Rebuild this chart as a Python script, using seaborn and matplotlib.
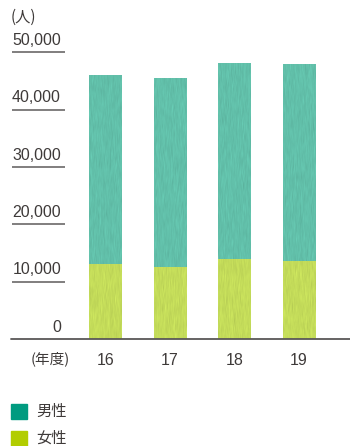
import matplotlib
matplotlib.use("Agg")
import matplotlib.pyplot as plt
import matplotlib.transforms as mtransforms
from matplotlib.colors import to_rgb
from matplotlib.patches import Rectangle
import numpy as np
import seaborn as sns
import pandas as pd

# Employees by fiscal year (persons)
years = ["16", "17", "18", "19"]
male = [33100, 33100, 34200, 34300]
female = [13000, 12500, 14000, 13600]
yticks = [0, 10000, 20000, 30000, 40000, 50000]
ytick_labels = ["0", "10,000", "20,000", "30,000", "40,000", "50,000"]
series_names = ["男性", "女性"]

male_bar = "#62c0aa"
female_bar = "#c4dc5a"
male_key = "#009b80"
female_key = "#b2cd00"
text_color = "#3e3a39"
rule_color = "#6b6868"

sns.set_theme(style="white")
plt.rcParams["font.family"] = ["Liberation Sans", "Noto Sans CJK JP", "DejaVu Sans"]
cjk = ["Noto Sans CJK JP", "DejaVu Sans"]

df = pd.DataFrame({"year": years, "male": male, "female": female})
df["total"] = df["male"] + df["female"]

W, H = 350, 446
fig = plt.figure(figsize=(W / 100, H / 100), dpi=100)
ax = fig.add_axes([11 / W, (H - 339) / H, (W - 11) / W, (339 - 52.3) / H])

sns.barplot(data=df, x="year", y="total", color=male_bar, width=0.51,
            saturation=1, ax=ax, edgecolor="none")
sns.barplot(data=df, x="year", y="female", color=female_bar, width=0.51,
            saturation=1, ax=ax, edgecolor="none")

# faint paint-like mottling inside each bar
rng = np.random.default_rng(7)
def mottle(base, shape):
    n = rng.normal(size=shape)
    k = np.ones(3) / 3
    n = np.apply_along_axis(lambda r: np.convolve(r, k, mode="same"), 0, n)
    n = np.apply_along_axis(lambda r: np.convolve(r, np.ones(7) / 7, mode="same"), 0, n)
    n = n / (n.std() + 1e-9)
    rgb = np.array(to_rgb(base))
    img = rgb[None, None, :] * (1 + 0.018 * n[..., None])
    return np.clip(img, 0, 1)

for p in list(ax.patches):
    x, y = p.get_x(), p.get_y()
    w, h = p.get_width(), p.get_height()
    if h <= 0:
        continue
    col = p.get_facecolor()
    img = mottle(col[:3], (max(int(h / 50000 * 287), 4), 33))
    im = ax.imshow(img, extent=(x, x + w, y, y + h), aspect="auto",
                   interpolation="bilinear", zorder=p.get_zorder() + 0.01)
    im.set_clip_path(p)
ax.set_xlim(-1.465, 3.79)
ax.set_ylim(0, 50000)

for s in ax.spines.values():
    s.set_visible(False)
ax.set_xlabel("")
ax.set_ylabel("")
ax.set_yticks([])
ax.tick_params(axis="x", length=0, pad=10, labelsize=11.5, labelcolor=text_color)

# baseline across the full width
ax.axhline(0, color="#595757", lw=1.3, clip_on=False, zorder=5)

# short rules under each value label, labels sitting just above them
blend = mtransforms.blended_transform_factory(ax.transAxes, ax.transData)
x0 = (12 - 11) / (W - 11)
x1 = (65 - 11) / (W - 11)
xl = (61 - 11) / (W - 11)
for v, lab in zip(yticks, ytick_labels):
    if v > 0:
        ax.plot([x0, x1], [v, v], transform=blend, color=rule_color, lw=1.2,
                clip_on=False, solid_capstyle="butt")
    ax.annotate(lab, xy=(xl, v), xycoords=blend, xytext=(0, 5.2),
                textcoords="offset points", ha="right", va="baseline",
                fontsize=11.5, color=text_color)

fig.text(11 / W, 1 - 17 / H, "(人)", ha="left", va="center", fontsize=11,
         color=text_color, family=cjk)
fig.text(50 / W, 1 - 359 / H, "(年度)", ha="center", va="center", fontsize=10.5,
         color=text_color, family=cjk)

# legend keys
for i, (name, col) in enumerate(zip(series_names, [male_key, female_key])):
    yc = 411 + i * 27.5
    fig.patches.append(Rectangle((11 / W, 1 - (yc + 7.5) / H), 16 / W, 15 / H,
                                 transform=fig.transFigure, color=col))
    fig.text(36 / W, 1 - yc / H, name, ha="left", va="center", fontsize=11,
             color=text_color, family=cjk)

fig.savefig("out.png", dpi=100)
